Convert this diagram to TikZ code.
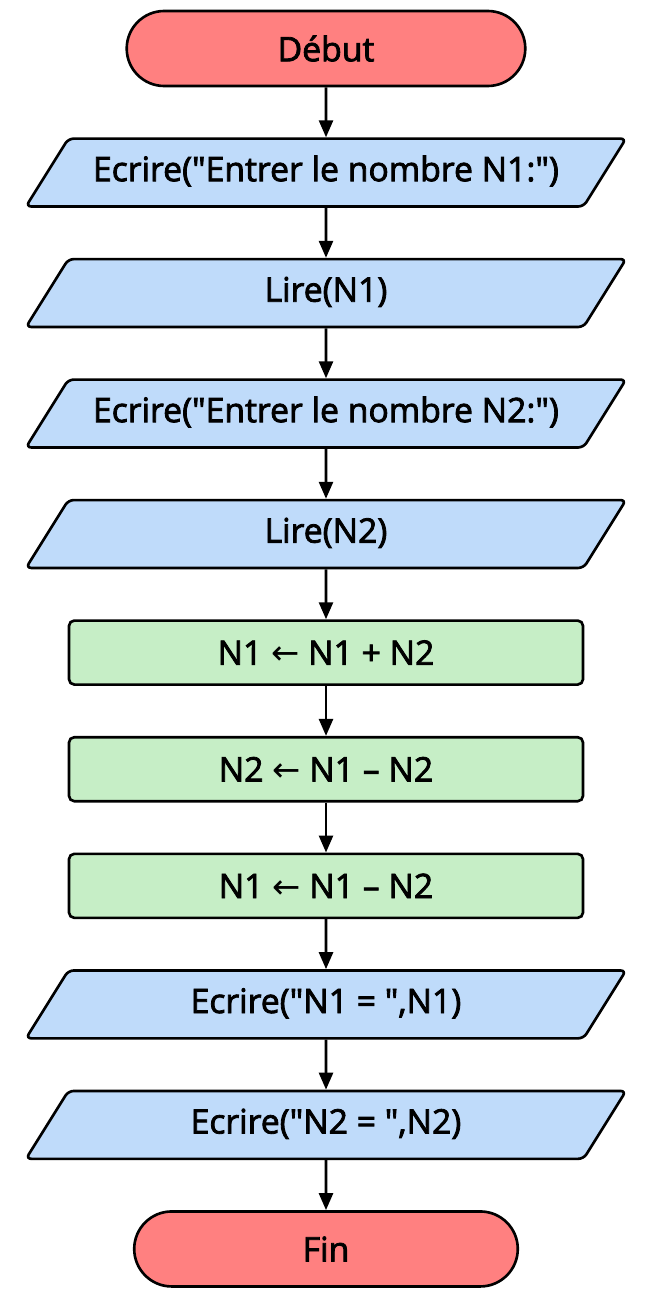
\documentclass[tikz,border=0pt]{standalone}
\usepackage{fontspec}
\setmainfont{Open Sans}[Ligatures=TeXOff,FakeBold=2.4,UprightFeatures={FakeBold=2.4}]
\newfontfamily\arrowfont{DejaVu Sans}
\newcommand{\affecte}{{\arrowfont ←}}
\usetikzlibrary{positioning,shapes.geometric,shapes.misc,arrows.meta}

\definecolor{termred}{RGB}{255,128,128}
\definecolor{ioblue}{RGB}{191,219,250}
\definecolor{calcgreen}{RGB}{198,238,198}

\begin{document}
\begin{tikzpicture}[font=\fontsize{9.6}{11}\selectfont]

\def\gap{0.5cm}
\def\lw{0.75pt}

\tikzset{terminal/.style = {draw, line width=\lw, rounded rectangle, fill=termred, minimum height=0.75cm},
         io/.style = {draw, line width=\lw, trapezium, trapezium left angle=58, trapezium right angle=122,
                      trapezium stretches body, fill=ioblue, minimum width=6cm,
                      text height=7.3pt, text depth=2.4pt, inner ysep=4.8pt, rounded corners=1.5pt},
         proc/.style = {draw, line width=\lw, rectangle, fill=calcgreen, minimum width=5.14cm, minimum height=0.64cm, rounded corners=1.5pt},
         flow/.style = {-{Triangle[length=1.7mm,width=1.4mm]}, line width=\lw}}

\useasboundingbox (0,0) rectangle (6.5,-12.99);

\node[terminal, minimum width=4.22cm] (deb) at (3.26,-0.485) {Début};
\node[io, below=\gap of deb] (ecr1) {Ecrire("Entrer le nombre N1:")};
\node[io, below=\gap of ecr1] (lire1) {Lire(N1)};
\node[io, below=\gap of lire1] (ecr2) {Ecrire("Entrer le nombre N2:")};
\node[io, below=\gap of ecr2] (lire2) {Lire(N2)};
\node[proc, below=\gap of lire2] (calc1) {N1 \affecte{} N1 + N2};
\node[proc, below=\gap of calc1] (calc2) {N2 \affecte{} N1 – N2};
\node[proc, below=\gap of calc2] (calc3) {N1 \affecte{} N1 – N2};
\node[io, below=\gap of calc3] (aff1) {Ecrire("N1 = ",N1)};
\node[io, below=\gap of aff1] (aff2) {Ecrire("N2 = ",N2)};
\node[terminal, minimum width=4.07cm, below=\gap of aff2] (fin) {Fin};

\draw[flow] (deb) -- (ecr1);
\draw[flow] (ecr1) -- (lire1);
\draw[flow] (lire1) -- (ecr2);
\draw[flow] (ecr2) -- (lire2);
\draw[flow] (lire2) -- (calc1);
\draw[flow] (calc1) -- (calc2);
\draw[flow] (calc2) -- (calc3);
\draw[flow] (calc3) -- (aff1);
\draw[flow] (aff1) -- (aff2);
\draw[flow] (aff2) -- (fin);

\end{tikzpicture}
\end{document}
